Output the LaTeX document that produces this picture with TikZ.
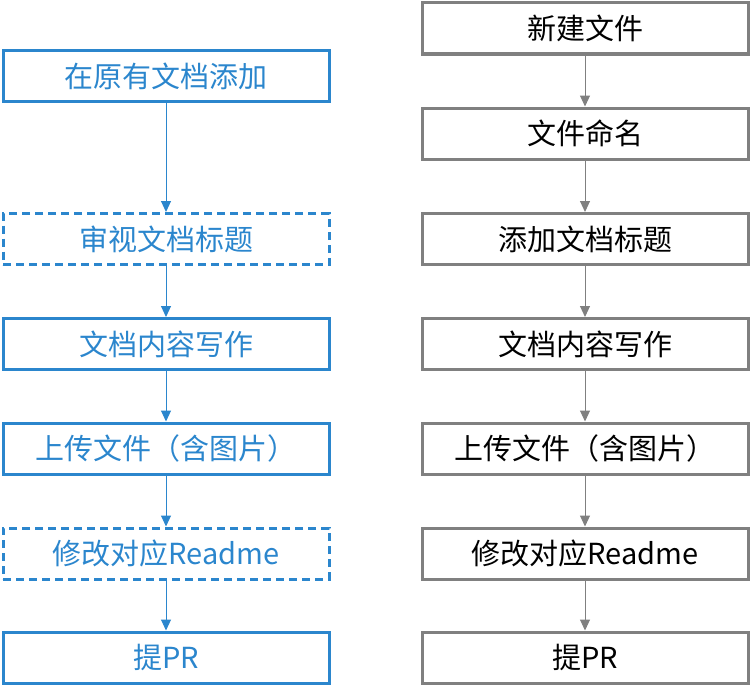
\documentclass[tikz,border=0pt]{standalone}
\usepackage{fontspec}
\setmainfont{Noto Sans CJK SC}
\usetikzlibrary{arrows.meta}
\definecolor{docblue}{RGB}{43,134,205}
\definecolor{docgray}{RGB}{128,128,128}
\tikzset{
	stepbox/.style={draw, line width=3pt, minimum width=326pt, minimum height=51pt, inner sep=0pt, font=\fontsize{29}{32}\selectfont},
	oldbox/.style={stepbox, draw=docblue, text=docblue},
	optbox/.style={oldbox, dash pattern=on 8pt off 5pt},
	newbox/.style={stepbox, draw=docgray, text=black},
	flow/.style={line width=1pt, -{Triangle[width=10pt,length=11pt]}}
}
\begin{document}
\begin{tikzpicture}[x=1pt,y=-1pt]
	\useasboundingbox (0,0) rectangle (751,693);
	
	% left column: edit an existing document
	\node[oldbox] (l1) at (166,76) {在原有文档添加};
	\node[optbox] (l2) at (166,239) {审视文档标题};
	\node[oldbox] (l3) at (166,344) {文档内容写作};
	\node[oldbox] (l4) at (166,448.5) {上传文件（含图片）};
	\node[optbox] (l5) at (166,553.5) {修改对应Readme};
	\node[oldbox] (l6) at (166,657.5) {提PR};
	
	% right column: new document
	\node[newbox] (r1) at (585,28.5) {新建文件};
	\node[newbox] (r2) at (585,133.5) {文件命名};
	\node[newbox] (r3) at (585,239) {添加文档标题};
	\node[newbox] (r4) at (585,344) {文档内容写作};
	\node[newbox] (r5) at (585,448.5) {上传文件（含图片）};
	\node[newbox] (r6) at (585,553.5) {修改对应Readme};
	\node[newbox] (r7) at (585,657.5) {提PR};
	
	\draw[flow, docblue] (l1) -- (l2);
	\draw[flow, docblue] (l2) -- (l3);
	\draw[flow, docblue] (l3) -- (l4);
	\draw[flow, docblue] (l4) -- (l5);
	\draw[flow, docblue] (l5) -- (l6);
	
	\draw[flow, docgray] (r1) -- (r2);
	\draw[flow, docgray] (r2) -- (r3);
	\draw[flow, docgray] (r3) -- (r4);
	\draw[flow, docgray] (r4) -- (r5);
	\draw[flow, docgray] (r5) -- (r6);
	\draw[flow, docgray] (r6) -- (r7);
\end{tikzpicture}
\end{document}
